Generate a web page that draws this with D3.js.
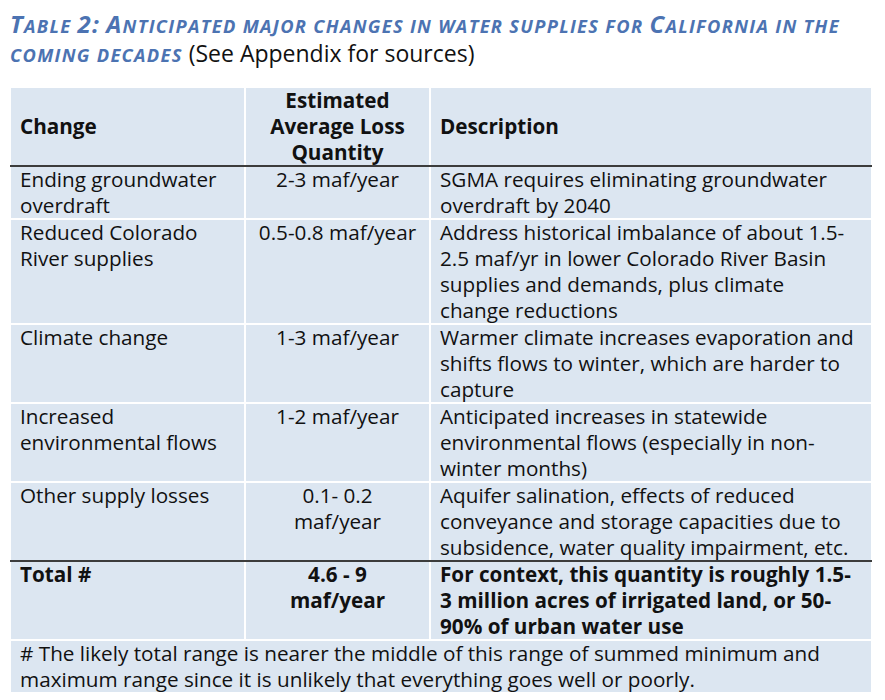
<!DOCTYPE html>
<html>
<head>
<meta charset="utf-8">
<script src="https://cdn.jsdelivr.net/npm/d3@7"></script>
<style>
  body { margin: 0; background: #fff; }
  svg { display: block; }
</style>
</head>
<body>
<svg id="chart"></svg>
<script>
let width = 885;
let height = 700;

// dados da tabela
const titleLine1 = "Table 2: Anticipated major changes in water supplies for California in the";
const titleLine2 = "coming decades";
const titleNote = " (See Appendix for sources)";

const headers = [["Change"], ["Estimated", "Average Loss", "Quantity"], ["Description"]];

const changes = [
  ["Ending groundwater", "overdraft"],
  ["Reduced Colorado", "River supplies"],
  ["Climate change"],
  ["Increased", "environmental flows"],
  ["Other supply losses"]
];
const quantities = [
  ["2-3 maf/year"],
  ["0.5-0.8 maf/year"],
  ["1-3 maf/year"],
  ["1-2 maf/year"],
  ["0.1- 0.2", "maf/year"]
];
const descriptions = [
  ["SGMA requires eliminating groundwater", "overdraft by 2040"],
  ["Address historical imbalance of about 1.5-", "2.5 maf/yr in lower Colorado River Basin", "supplies and demands, plus climate", "change reductions"],
  ["Warmer climate increases evaporation and", "shifts flows to winter, which are harder to", "capture"],
  ["Anticipated increases in statewide", "environmental flows (especially in non-", "winter months)"],
  ["Aquifer salination, effects of reduced", "conveyance and storage capacities due to", "subsidence, water quality impairment, etc."]
];

const totalRow = [["Total #"], ["4.6 - 9", "maf/year"], ["For context, this quantity is roughly 1.5-", "3 million acres of irrigated land, or 50-", "90% of urban water use"]];
const footnote = ["# The likely total range is nearer the middle of this range of summed minimum and", "maximum range since it is unlikely that everything goes well or poorly."];

const colEdges = [10, 245, 430, 872];
const lineH = 26;
const tableTop = 87;

const font = "'Open Sans', Lato, sans-serif";
const fontSize = 20.7;
const bg = "#dce6f1";
const ink = "#111";
const blue = "#4c73b2";

const svg = d3.select("#chart").attr("width", width).attr("height", height);
svg.append("rect").attr("width", width).attr("height", height).attr("fill", "#fff");

// versaletes feitos a mao: minusculas viram maiusculas menores
function smallCaps(sel, str, big, small) {
  let runs = [];
  for (const ch of str) {
    let low = ch !== ch.toUpperCase() || ch === " ";
    let last = runs[runs.length - 1];
    if (last && last.low === low) last.s += ch;
    else runs.push({ low: low, s: ch });
  }
  sel.selectAll(null)
    .data(runs)
    .enter()
    .append("tspan")
    .attr("font-size", d => d.low ? small : big)
    .text(d => d.s.toUpperCase());
}

// titulo
const t1 = svg.append("text")
  .attr("x", 10).attr("y", 33)
  .attr("font-family", font)
  .attr("font-weight", "bold")
  .attr("font-style", "italic")
  .attr("letter-spacing", 1.3)
  .attr("fill", blue);
smallCaps(t1, titleLine1, 24, 18.3);

const t2 = svg.append("text")
  .attr("x", 10).attr("y", 62)
  .attr("font-family", font)
  .attr("fill", blue);
const t2a = t2.append("tspan")
  .attr("font-weight", "bold")
  .attr("font-style", "italic")
  .attr("letter-spacing", 1.3);
smallCaps(t2a, titleLine2, 24, 18.3);
t2.append("tspan")
  .attr("fill", ink)
  .attr("font-size", 23)
  .attr("letter-spacing", 0)
  .text(titleNote);

// monta linhas
let rows = [];
rows.push({ cells: headers, kind: "header" });
changes.forEach((c, i) => rows.push({ cells: [c, quantities[i], descriptions[i]], kind: "body" }));
rows.push({ cells: totalRow, kind: "total" });
rows.push({ cells: [footnote], kind: "foot" });

let y = tableTop;
rows.forEach(r => {
  let n = d3.max(r.cells, c => c.length);
  r.y = y;
  r.h = n * lineH + 1;
  y += r.h;
});

const g = svg.append("g");

rows.forEach(r => {
  const rg = g.append("g");
  const cols = r.kind === "foot" ? [[colEdges[0], colEdges[3]]] : d3.range(3).map(i => [colEdges[i], colEdges[i + 1]]);
  cols.forEach((c, ci) => {
    rg.append("rect")
      .attr("x", c[0]).attr("y", r.y)
      .attr("width", c[1] - c[0]).attr("height", r.h)
      .attr("fill", bg)
      .attr("stroke", "#fff")
      .attr("stroke-width", 2);

    let lines = r.cells[ci];
    let offset = 0;
    if (r.kind === "header" && ci !== 1) offset = lineH; // centrado vertical
    let bold = r.kind === "header" || r.kind === "total";
    let centered = ci === 1 && r.kind !== "foot";
    const txt = rg.append("text")
      .attr("font-family", font)
      .attr("font-size", fontSize)
      .attr("font-weight", bold ? "bold" : "normal")
      .attr("fill", ink)
      .attr("text-anchor", centered ? "middle" : "start");
    txt.selectAll("tspan")
      .data(lines)
      .enter()
      .append("tspan")
      .attr("x", centered ? (c[0] + c[1]) / 2 : c[0] + 10)
      .attr("y", (d, i) => r.y + 21 + offset + i * lineH)
      .text(d => d);
  });
});

// linhas escuras
const dark = [rows[0].y + rows[0].h, rows[6].y];
g.selectAll("line.dark")
  .data(dark)
  .enter()
  .append("line")
  .attr("class", "dark")
  .attr("x1", colEdges[0]).attr("x2", colEdges[3])
  .attr("y1", d => d).attr("y2", d => d)
  .attr("stroke", "#3c3c3c")
  .attr("stroke-width", 2);
</script>
</body>
</html>
